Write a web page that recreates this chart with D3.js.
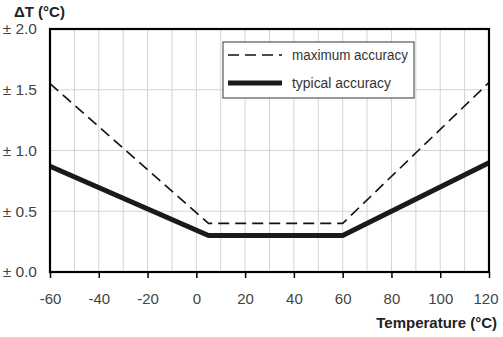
<!DOCTYPE html>
<html><head><meta charset="utf-8">
<script src="https://cdn.jsdelivr.net/npm/d3@7"></script>
<style>body{margin:0;background:#fff}svg{display:block}</style>
</head><body>
<svg id="c" width="503" height="337"></svg>
<script>
const xTicks = [-60,-40,-20,0,20,40,60,80,100,120];
const yTicks = [0,0.5,1.0,1.5,2.0];
const maxTemp = [-60,5,60,120];
const maxDev  = [1.55,0.4,0.4,1.56];
const typTemp = [-60,5,60,120];
const typDev  = [0.87,0.3,0.3,0.9];
const seriesNames = ["maximum accuracy","typical accuracy"];

const svg = d3.select("#c");
const m = {l:50, r:489, t:29, b:272};
const x = d3.scaleLinear().domain([-60,120]).range([m.l,m.r]);
const y = d3.scaleLinear().domain([0,2]).range([m.b,m.t]);
const font = "'Liberation Sans', Arial, sans-serif";

// grid
const g = svg.append("g");
g.selectAll("line.v").data(d3.range(-50,120,10)).join("line")
  .attr("x1",d=>x(d)).attr("x2",d=>x(d)).attr("y1",m.t).attr("y2",m.b)
  .attr("stroke","#d4d4d4").attr("stroke-width",1);
g.selectAll("line.h").data([0.5,1.0,1.5]).join("line")
  .attr("x1",m.l).attr("x2",m.r).attr("y1",d=>y(d)).attr("y2",d=>y(d))
  .attr("stroke","#d4d4d4").attr("stroke-width",1);

// lines
const line = d3.line().x(d=>x(d[0])).y(d=>y(d[1]));
svg.append("path").datum(maxTemp.map((t,i)=>[t,maxDev[i]]))
  .attr("d",line).attr("fill","none").attr("stroke","#111").attr("stroke-width",1.6)
  .attr("stroke-dasharray","11,6");
svg.append("path").datum(typTemp.map((t,i)=>[t,typDev[i]]))
  .attr("d",line).attr("fill","none").attr("stroke","#1a1a1a").attr("stroke-width",5);

// frame
svg.append("rect").attr("x",m.l).attr("y",m.t).attr("width",m.r-m.l).attr("height",m.b-m.t)
  .attr("fill","none").attr("stroke","#000").attr("stroke-width",2.2);

// x axis
const xa = svg.append("g").attr("transform",`translate(0,${m.b})`)
  .call(d3.axisBottom(x).tickValues(xTicks).tickSize(6).tickPadding(15).tickFormat(d=>String(d)));
xa.select(".domain").remove();
xa.selectAll("line").attr("stroke","#000").attr("stroke-width",1.5);
xa.selectAll("text").attr("font-family",font).attr("font-size",15).attr("fill","#444")
  .attr("text-anchor",d=>d===120?"end":"middle").attr("dx",d=>d===120?9:0);

// y axis
const ya = svg.append("g").attr("transform",`translate(${m.l},0)`)
  .call(d3.axisLeft(y).tickValues(yTicks).tickSize(0).tickPadding(13).tickFormat(d=>"± "+d3.format(".1f")(d)));
ya.select(".domain").remove();
ya.selectAll("text").attr("font-family",font).attr("font-size",15.5).attr("fill","#444");

// titles
svg.append("text").attr("x",14).attr("y",17).text("ΔT (°C)")
  .attr("font-family",font).attr("font-size",15).attr("font-weight","bold").attr("fill","#222");
svg.append("text").attr("x",497).attr("y",328).attr("text-anchor","end").text("Temperature (°C)")
  .attr("font-family",font).attr("font-size",15).attr("font-weight","bold").attr("fill","#222");

// legend
const legendLen = [116, 99];
const lg = svg.append("g");
lg.append("rect").attr("x",223).attr("y",42).attr("width",191).attr("height",56)
  .attr("fill","#fff").attr("stroke","#555").attr("stroke-width",1.2);
lg.append("line").attr("x1",228).attr("x2",282).attr("y1",55).attr("y2",55)
  .attr("stroke","#111").attr("stroke-width",1.6).attr("stroke-dasharray","11,6");
lg.append("line").attr("x1",228).attr("x2",282).attr("y1",83).attr("y2",83)
  .attr("stroke","#1a1a1a").attr("stroke-width",5);
lg.selectAll("text").data(seriesNames).join("text")
  .attr("x",292).attr("y",(d,i)=>60+i*28).text(d=>d)
  .attr("font-family",font).attr("font-size",14).attr("fill","#333")
  .attr("textLength",(d,i)=>legendLen[i]).attr("lengthAdjust","spacingAndGlyphs");
</script>
</body></html>
